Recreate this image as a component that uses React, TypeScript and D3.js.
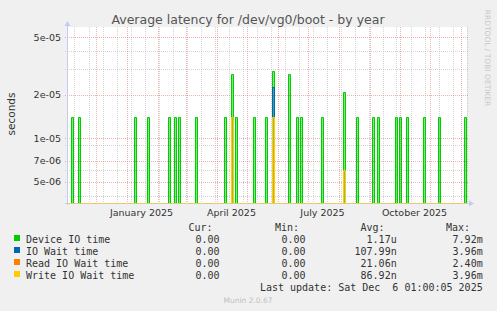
import React from "react";
import * as d3 from "d3";

// ---- data ----
const yMajorTicks = [5e-5, 2e-5, 1e-5, 7e-6, 5e-6];
const yMajorLabels = ["5e-05", "2e-05", "1e-05", "7e-06", "5e-06"];
const yMinorTicks = [4e-5, 3e-5, 9e-6, 6e-6, 4e-6];
const xLabelMonths = ["2025-01-01 00", "2025-04-01 00", "2025-07-01 00", "2025-10-01 00"];
const xLabelTexts = ["January 2025", "April 2025", "July 2025", "October 2025"];

const spikeDates = [
  "2024-11-06 00", "2024-11-14 00", "2025-01-08 00", "2025-01-21 00", "2025-02-11 00",
  "2025-02-17 00", "2025-02-21 12", "2025-03-11 00", "2025-04-08 00", "2025-04-15 00",
  "2025-04-19 12", "2025-05-07 00", "2025-05-19 12", "2025-05-26 00", "2025-06-11 00",
  "2025-06-19 00", "2025-06-23 12", "2025-07-14 12", "2025-08-05 00", "2025-08-18 12",
  "2025-09-03 12", "2025-09-08 12", "2025-09-26 12", "2025-09-30 12", "2025-10-07 12",
  "2025-10-24 12", "2025-11-08 12", "2025-12-04 12",
];
const deviceIO = [
  1.4e-5, 1.4e-5, 1.4e-5, 1.4e-5, 1.4e-5,
  1.4e-5, 1.4e-5, 1.4e-5, 1.4e-5, 2.8e-5,
  1.4e-5, 1.4e-5, 1.4e-5, 2.9e-5, 2.8e-5,
  1.4e-5, 1.4e-5, 1.4e-5, 2.1e-5, 1.4e-5,
  1.4e-5, 1.4e-5, 1.4e-5, 1.4e-5, 1.4e-5,
  1.4e-5, 1.4e-5, 1.4e-5,
];
const ioWait = [
  0, 0, 0, 0, 0, 0, 0, 0, 0, 1.4e-5,
  0, 0, 0, 2.27e-5, 0, 0, 0, 0, 6e-6, 0,
  0, 0, 0, 0, 0, 0, 0, 0,
];
const readIOWait = [
  0, 0, 0, 0, 0, 0, 0, 0, 0, 0,
  0, 0, 0, 0.9e-5, 0, 0, 0, 0, 0, 0,
  0, 0, 0, 0, 0, 0, 0, 0,
];
const writeIOWait = [
  0, 0, 0, 0, 0, 0, 0, 0, 0, 1.4e-5,
  0, 0, 0, 1.4e-5, 0, 0, 0, 0, 6e-6, 0,
  0, 0, 0, 0, 0, 0, 0, 0,
];

const seriesNames = ["Device IO time", "IO Wait time", "Read IO Wait time", "Write IO Wait time"];
const seriesColors = ["#00CC00", "#0066B3", "#FF8000", "#FFCC00"];
const curValues = ["0.00", "0.00", "0.00", "0.00"];
const minValues = ["0.00", "0.00", "0.00", "0.00"];
const avgValues = ["1.17u", "107.99n", "21.06n", "86.92n"];
const maxValues = ["7.92m", "3.96m", "2.40m", "3.96m"];

const domainStart = "2024-11-02 12";
const domainEnd = "2025-12-07 12";
const minorGridStart = "2024-11-10 00";
const yDomain = [3.56e-6, 5.89e-5];

// ---- chart ----
const W = 497;
const H = 311;
const PL = 67, PR = 467, PT = 27, PB = 203;

const parse = d3.utcParse("%Y-%m-%d %H");

export default function App() {
  const x = d3.scaleUtc().domain([parse(domainStart)!, parse(domainEnd)!]).range([PL, PR]);
  const y = d3.scaleLog().domain(yDomain).range([PB, PT]);

  const majorV = d3.utcMonth.range(parse(domainStart)!, parse(domainEnd)!);
  const minorDates: Date[] = [];
  {
    let d = parse(minorGridStart)!;
    const end = parse(domainEnd)!;
    while (d < end) {
      minorDates.push(d);
      d = d3.utcDay.offset(d, 14);
    }
  }

  const series = [deviceIO, ioWait, readIOWait, writeIOWait];
  const spikeW = 2;

  const spikePath = (date: string, v: number) => {
    const x0 = Math.round(x(parse(date)!)) + 0.5;
    const top = Math.round(y(v)) + 0.5;
    const p = d3.path();
    p.moveTo(x0, PB);
    p.lineTo(x0, top);
    p.lineTo(x0 + spikeW, top);
    p.lineTo(x0 + spikeW, PB);
    return p.toString();
  };

  const gridMinor = "rgba(160,160,160,0.45)";
  const gridMajor = "rgba(230,100,100,0.5)";
  const axisColor = "#c4ccf2";
  const textColor = "#333";
  const mono = "'DejaVu Sans Mono', monospace";
  const sans = "'DejaVu Sans', sans-serif";

  const legendTop = 231;
  const rowH = 12;

  return (
    <svg width={W} height={H} style={{ position: "fixed", left: 0, top: 0 }}>
      <rect x={0} y={0} width={W} height={H} fill="#F0F0F0" />
      <rect x={PL} y={PT} width={PR - PL} height={PB - PT} fill="#FFFFFF" />

      {/* minor horizontal grid */}
      {yMinorTicks.map((t, i) => (
        <line key={"hm" + i} x1={PL - 2} x2={PR + 2} y1={Math.round(y(t)) + 0.5} y2={Math.round(y(t)) + 0.5}
          stroke={gridMinor} strokeDasharray="1,1" />
      ))}
      {/* minor vertical grid */}
      {minorDates.map((d, i) => (
        <line key={"vm" + i} x1={Math.round(x(d)) + 0.5} x2={Math.round(x(d)) + 0.5} y1={PT} y2={PB + 2}
          stroke={gridMinor} strokeDasharray="1,1" />
      ))}
      {/* major horizontal grid */}
      {yMajorTicks.map((t, i) => (
        <line key={"hM" + i} x1={PL - 2} x2={PR + 2} y1={Math.round(y(t)) + 0.5} y2={Math.round(y(t)) + 0.5}
          stroke={gridMajor} strokeDasharray="1,1" />
      ))}
      {/* major vertical grid */}
      {majorV.map((d, i) => (
        <line key={"vM" + i} x1={Math.round(x(d)) + 0.5} x2={Math.round(x(d)) + 0.5} y1={PT} y2={PB + 2}
          stroke={gridMajor} strokeDasharray="1,1" />
      ))}

      {/* y tick labels */}
      {yMajorTicks.map((t, i) => (
        <text key={"yl" + i} x={61} y={y(t) + 3.5} textAnchor="end" fontFamily={sans} fontSize={9.5} fill={textColor}>
          {yMajorLabels[i]}
        </text>
      ))}
      {/* x labels */}
      {xLabelMonths.map((m, i) => (
        <text key={"xl" + i} x={x(d3.utcDay.offset(parse(m)!, 15))} y={216} textAnchor="middle"
          fontFamily={sans} fontSize={9.5} fill={textColor}>
          {xLabelTexts[i]}
        </text>
      ))}

      {/* axes */}
      <line x1={PL + 0.5} x2={PL + 0.5} y1={PB + 2} y2={PT - 4} stroke={axisColor} />
      <path d={`M${PL - 2.5},${PT - 1} L${PL + 0.5},${PT - 6} L${PL + 3.5},${PT - 1} Z`} fill={axisColor} />
      <line x1={PL - 2} x2={PR + 3} y1={PB + 0.5} y2={PB + 0.5} stroke={axisColor} />
      <path d={`M${PR + 2},${PB - 2.5} L${PR + 7},${PB + 0.5} L${PR + 2},${PB + 3.5} Z`} fill={axisColor} />

      {/* zero-value lines at the bottom */}
      <line x1={PL} x2={PR} y1={PB + 0.5} y2={PB + 0.5} stroke="#FFCC00" strokeOpacity={0.55} />

      {/* spikes */}
      {series.map((vals, si) =>
        spikeDates.map((d, i) =>
          vals[i] > 0 ? (
            <path key={"s" + si + "-" + i} d={spikePath(d, vals[i])} stroke={seriesColors[si]} strokeWidth={1}
              fill={seriesColors[si]} fillOpacity={0.5} />
          ) : null
        )
      )}

      {/* title */}
      <text x={248} y={24} textAnchor="middle" fontFamily={sans} fontSize={12.5} fill="#555">
        Average latency for /dev/vg0/boot - by year
      </text>
      {/* y axis title */}
      <text transform="translate(15,114) rotate(-90)" textAnchor="middle" fontFamily={sans} fontSize={10.5} fill={textColor}>
        seconds
      </text>
      {/* rrdtool credit */}
      <text transform="translate(485,58) rotate(90)" textAnchor="middle" fontFamily={sans} fontSize={7.5} fill="#c8c8c8">
        RRDTOOL / TOBI OETIKER
      </text>

      {/* legend */}
      <g fontFamily={mono} fontSize={10} fill={textColor}>
        <text x={212.5} y={legendTop} textAnchor="end">Cur:</text>
        <text x={299} y={legendTop} textAnchor="end">Min:</text>
        <text x={384.5} y={legendTop} textAnchor="end">Avg:</text>
        <text x={470} y={legendTop} textAnchor="end">Max:</text>
        {seriesNames.map((n, i) => {
          const by = legendTop + rowH * (i + 1);
          return (
            <g key={"lg" + i}>
              <rect x={14} y={by - 8} width={6} height={6} fill={seriesColors[i]} />
              <text x={26} y={by}>{n}</text>
              <text x={219.5} y={by} textAnchor="end">{curValues[i]}</text>
              <text x={305.5} y={by} textAnchor="end">{minValues[i]}</text>
              <text x={396.7} y={by} textAnchor="end">{avgValues[i]}</text>
              <text x={482.7} y={by} textAnchor="end">{maxValues[i]}</text>
            </g>
          );
        })}
        <text x={482.7} y={legendTop + rowH * 5} textAnchor="end" style={{ whiteSpace: "pre" }}>
          {"Last update: Sat Dec  6 01:00:05 2025"}
        </text>
      </g>
      <text x={248} y={303} textAnchor="middle" fontFamily={sans} fontSize={7.5} fill="#c0c0c0">
        Munin 2.0.67
      </text>
    </svg>
  );
}
